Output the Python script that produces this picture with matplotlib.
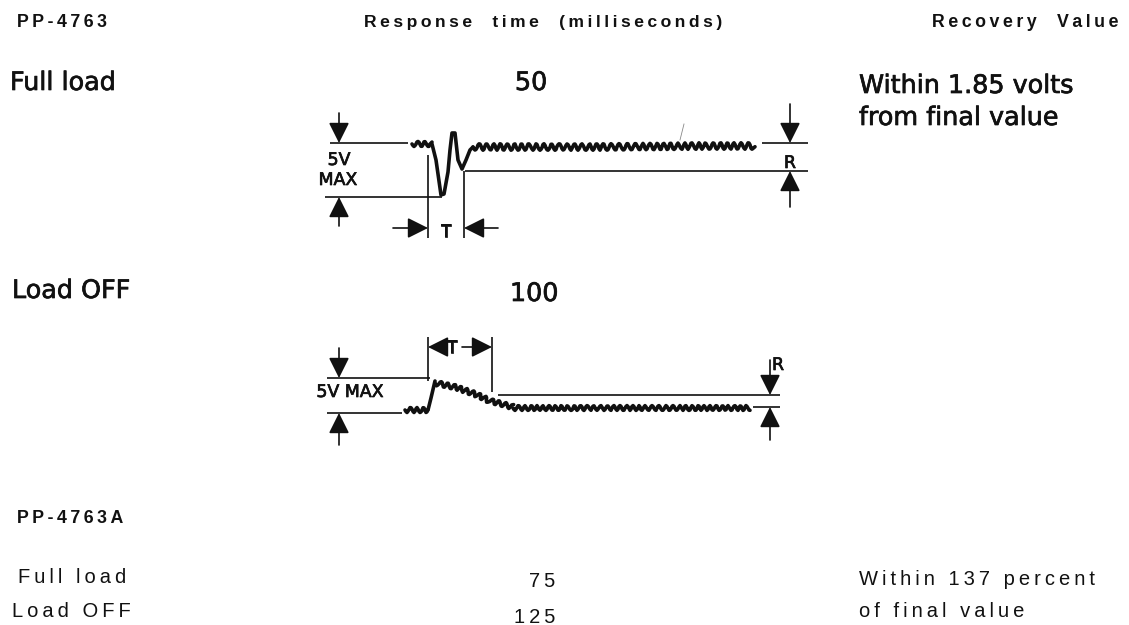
import matplotlib

matplotlib.use("Agg")
import matplotlib.pyplot as plt
import matplotlib.patheffects as pe

# table content
models = ["PP-4763", "PP-4763A"]
conditions = ["Full load", "Load OFF"]
resp_main = [50, 100]
resp_alt = [75, 125]
recovery_main = ["Within 1.85 volts", "from final value"]
recovery_alt = ["Within 137 percent", "of final value"]

# full-load scope trace: quiet ripple, dip/overshoot transient, settled ripple
full_pre_x = [412, 432]
full_pre_y = [144, 144]
full_step_x = [432, 436, 441, 444, 448, 450, 452, 455, 458, 462, 466, 470, 473]
full_step_y = [144, 160, 195, 194, 172, 150, 133, 133, 160, 169, 160, 150, 147]
full_post_x = [473, 600, 700, 755]
full_post_y = [147, 147, 146, 146]

# load-off trace: ripple, step up, slow decay back to a lower level
off_pre_x = [405, 428]
off_pre_y = [410, 410]
off_step_x = [428, 431, 435]
off_step_y = [410, 398, 381]
off_decay_x = [435, 455, 475, 490, 513]
off_decay_y = [383, 387, 394, 401, 407]
off_post_x = [513, 750]
off_post_y = [408, 408]

W, H = 1129, 625
INK = "#111111"
NARROW = ["Liberation Sans", "DejaVu Sans"]
WIDE = ["DejaVu Sans"]

fig = plt.figure(figsize=(W / 100, H / 100), dpi=100)
ax = fig.add_axes([0, 0, 1, 1])
ax.set_xlim(0, W)
ax.set_ylim(H, 0)
ax.axis("off")


def spaced(s):
    return "\u2009".join(s)


def txt(x, y, s, size, ha="left", weight="normal", family=NARROW, stroke=0.0):
    t = ax.text(x, y, s, fontsize=size, ha=ha, va="baseline", color=INK,
                family=family, fontweight=weight)
    if stroke:
        t.set_path_effects([pe.withStroke(linewidth=stroke, foreground=INK)])
    return t


def hline(x0, x1, y, lw=1.2):
    ax.plot([x0, x1], [y, y], color=INK, lw=lw, solid_capstyle="butt")


def vline(x, y0, y1, lw=1.2):
    ax.plot([x, x], [y0, y1], color=INK, lw=lw, solid_capstyle="butt")


def arrow(x0, y0, x1, y1):
    ax.annotate("", xy=(x1, y1), xytext=(x0, y0),
                arrowprops=dict(arrowstyle="-|>,head_length=0.9,head_width=0.45",
                                color=INK, lw=1.2, shrinkA=0, shrinkB=0,
                                mutation_scale=14))


def trace(xs, ys, ripple=None):
    ln, = ax.plot(xs, ys, color=INK, lw=2.6, solid_joinstyle="round",
                  solid_capstyle="round")
    if ripple:
        ln.set_sketch_params(*ripple)


def big(x, y, s, ha="left"):
    return txt(x, y, s, 18.3, ha=ha, family=WIDE, stroke=0.5)


def small(x, y, s, ha="center"):
    return txt(x, y, s, 12.5, ha=ha, family=WIDE, stroke=0.5)


# header row
txt(17, 27, spaced(models[0]), 12.8, weight="bold")
txt(543, 27, spaced("Response  time  (milliseconds)"), 12.6, ha="center", weight="bold")
txt(1118, 27, spaced("Recovery  Value"), 12.8, ha="right", weight="bold")

# PP-4763 rows
big(10, 90, conditions[0])
big(531, 90, str(resp_main[0]), ha="center")
big(859, 93, recovery_main[0])
big(859, 125, recovery_main[1])

big(12, 298, conditions[1])
big(534, 301, str(resp_main[1]), ha="center")

# full-load waveform with dimension marks
hline(330, 408, 143)
hline(325, 442, 197)
hline(465, 808, 171)
hline(762, 808, 143)
arrow(339, 113, 339, 143)
arrow(339, 226, 339, 197)
small(339, 165, "5V")
small(338, 185, "MAX")
vline(428, 155, 238)
vline(464, 171, 238)
arrow(393, 228, 428, 228)
arrow(498, 228, 464, 228)
small(446, 237, "T")
arrow(790, 104, 790, 143)
arrow(790, 207, 790, 171)
small(790, 168, "R")
ax.plot([680, 684], [140, 124], color="#888888", lw=0.6)

trace(full_pre_x, full_pre_y, (2.5, 7, 1.4))
trace(full_step_x, full_step_y)
trace(full_post_x, full_post_y, (3.2, 7.5, 1.4))

# load-off waveform with dimension marks
hline(327, 430, 378)
hline(327, 402, 413)
hline(498, 780, 395)
hline(753, 780, 407)
arrow(339, 348, 339, 378)
arrow(339, 445, 339, 413)
small(350, 397, "5V MAX")
vline(428, 337, 381)
vline(492, 337, 392)
arrow(442, 347, 428, 347)
arrow(462, 347, 492, 347)
ax.plot([438, 446], [347, 347], color=INK, lw=1.2)
small(452, 353, "T")
arrow(770, 360, 770, 395)
arrow(770, 440, 770, 407)
small(772, 370, "R", ha="left")

trace(off_pre_x, off_pre_y, (2.5, 6.5, 1.4))
trace(off_step_x, off_step_y)
trace(off_decay_x, off_decay_y, (2.5, 7, 1.4))
trace(off_post_x, off_post_y, (2.4, 6.5, 1.4))

# PP-4763A rows
txt(17, 523, spaced(models[1]), 12.8, weight="bold")
txt(18, 583, spaced(conditions[0]), 14.5)
txt(12, 617, spaced(conditions[1]), 14.5)
txt(555, 587, spaced(str(resp_alt[0])), 14.5, ha="right")
txt(555, 623, spaced(str(resp_alt[1])), 14.5, ha="right")
txt(859, 585, spaced(recovery_alt[0]), 14.5)
txt(859, 617, spaced(recovery_alt[1]), 14.5)

fig.savefig("out.png", dpi=100, facecolor="white")
